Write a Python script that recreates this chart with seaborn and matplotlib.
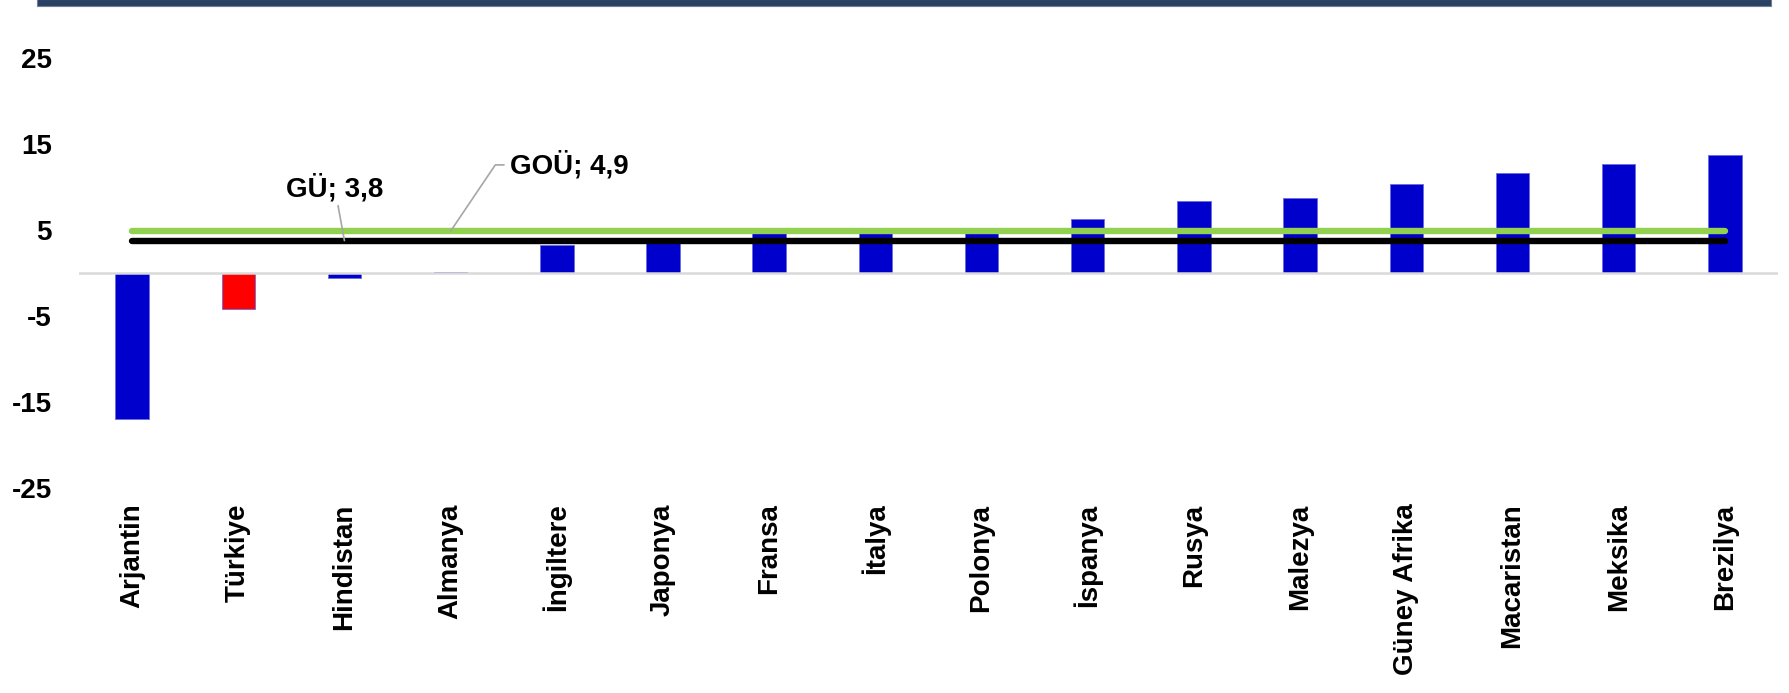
import numpy as np
import pandas as pd
import matplotlib.pyplot as plt
import seaborn as sns
from matplotlib.patches import Rectangle

# data
countries = ['Arjantin', 'Türkiye', 'Hindistan', 'Almanya', 'İngiltere', 'Japonya',
             'Fransa', 'İtalya', 'Polonya', 'İspanya', 'Rusya', 'Malezya',
             'Güney Afrika', 'Macaristan', 'Meksika', 'Brezilya']
values = [-16.9, -4.1, -0.6, 0.15, 3.3, 3.5, 4.7, 4.7, 5.3, 6.3, 8.4, 8.8,
          10.4, 11.7, 12.7, 13.7]
bar_colors = ['#FF0000' if c == 'Türkiye' else '#0000CC' for c in countries]
gu_value = 3.8     # GÜ
gou_value = 4.9    # GOÜ
y_ticks = [-25, -15, -5, 5, 15, 25]

sns.set_theme(style='white')
plt.rcParams['font.family'] = ['Liberation Sans', 'DejaVu Sans']
plt.rcParams['font.weight'] = 'bold'
plt.rcParams['text.color'] = 'black'
plt.rcParams['xtick.color'] = 'black'
plt.rcParams['ytick.color'] = 'black'

df = pd.DataFrame({'ulke': countries, 'deger': values})

fig = plt.figure(figsize=(17.9, 6.93), dpi=100)
ax = fig.add_axes([0.0441, 0.2954, 0.9492, 0.6205])

sns.barplot(data=df, x='ulke', y='deger', hue='ulke', palette=bar_colors,
            legend=False, width=0.315, ax=ax, saturation=1,
            edgecolor='#6b6be0', linewidth=0.6)

ax.axhline(0, color='#d9d9d9', lw=1.8, zorder=1)

n = len(countries)
ax.plot([0, n - 1], [gou_value, gou_value], color='#92D050', lw=4.6,
        solid_capstyle='round', zorder=3)
ax.plot([0, n - 1], [gu_value, gu_value], color='black', lw=4.6,
        solid_capstyle='round', zorder=3)

# labels for the reference lines
ax.annotate('GÜ; ' + str(gu_value).replace('.', ','), xy=(2.0, gu_value),
            xytext=(1.91, 9.9), ha='center', va='center', fontsize=20,
            fontweight='bold', color='black',
            arrowprops=dict(arrowstyle='-', color='#a6a6a6', lw=1.2,
                            shrinkA=0, shrinkB=0))
ax.annotate('GOÜ; ' + str(gou_value).replace('.', ','), xy=(3.0, gou_value),
            xytext=(3.56, 12.6), ha='left', va='center', fontsize=20,
            fontweight='bold', color='black',
            arrowprops=dict(arrowstyle='-', color='#a6a6a6', lw=1.2,
                            relpos=(0, 0.5), shrinkA=2, shrinkB=0,
                            connectionstyle='angle,angleA=180,angleB=56,rad=0'))

ax.set_ylim(-25, 25)
ax.set_xlim(-0.5, n - 0.5)
ax.set_yticks(y_ticks)
ax.set_yticklabels([str(t) for t in y_ticks], fontsize=20, fontweight='bold')
ax.set_xticks(range(n))
ax.set_xticklabels(countries, rotation=90, fontsize=20, fontweight='bold')
ax.tick_params(axis='both', colors='black', labelcolor='black')
ax.tick_params(axis='y', length=0, pad=19.5)
ax.tick_params(axis='x', length=0, pad=11)
ax.set_xlabel('')
ax.set_ylabel('')
for s in ax.spines.values():
    s.set_visible(False)

# dark band at the top
fig.add_artist(Rectangle((37 / 1790, 1 - 6 / 693), (1771 - 37) / 1790, 7 / 693,
                         transform=fig.transFigure, facecolor='#2a4163',
                         edgecolor='#6f7f99', lw=0.8, clip_on=False))

fig.savefig('out.png', dpi=100)
